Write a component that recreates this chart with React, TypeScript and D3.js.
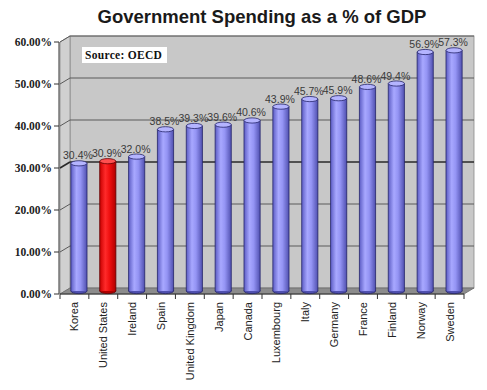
import * as d3 from "d3";

const countries = ["Korea", "United States", "Ireland", "Spain", "United Kingdom", "Japan", "Canada", "Luxembourg", "Italy", "Germany", "France", "Finland", "Norway", "Sweden"];
const spending = [30.4, 30.9, 32.0, 38.5, 39.3, 39.6, 40.6, 43.9, 45.7, 45.9, 48.6, 49.4, 56.9, 57.3];
const highlight = ["United States"];
const yTicks = [0, 10, 20, 30, 40, 50, 60];

const W = 487;
const H = 390;
// 3d depth of the plot box
const dx = 10;
const dy = -6;

export default function App() {
  const x = d3.scaleBand<string>().domain(countries).range([60, 464]).paddingInner(0.44).paddingOuter(0.22);
  const band = d3.scaleBand<string>().domain(countries).range([60, 464]);
  const y = d3.scaleLinear().domain([0, 60]).range([294, 42]);

  const x0 = 60, x1 = 464;
  const y0 = y(0), yTop = y(60);
  const bw = x.bandwidth();
  const off = 4.5; // bars sit halfway into the box
  const ry = 2.6;

  return (
    <svg width={W} height={H} style={{ position: "absolute", left: 0, top: 0, background: "#fff" }}>
      <defs>
        <linearGradient id="blue" x1="0" x2="1" y1="0" y2="0">
          <stop offset="0" stopColor="#5c5cc4" />
          <stop offset="0.35" stopColor="#a8a8ff" />
          <stop offset="0.6" stopColor="#9494f4" />
          <stop offset="1" stopColor="#5050b0" />
        </linearGradient>
        <linearGradient id="red" x1="0" x2="1" y1="0" y2="0">
          <stop offset="0" stopColor="#c80000" />
          <stop offset="0.35" stopColor="#ff2a2a" />
          <stop offset="0.6" stopColor="#f01010" />
          <stop offset="1" stopColor="#b00000" />
        </linearGradient>
      </defs>

      <text x={262} y={23} textAnchor="middle" fontFamily="Liberation Sans, Arial, sans-serif" fontWeight="bold" fontSize={18.5} fill="#1a1a1a">
        Government Spending as a % of GDP
      </text>

      {/* back wall */}
      <rect x={x0 + dx} y={yTop + dy} width={x1 - x0} height={y0 - yTop} fill="#c8c8c8" stroke="#8a8a8a" strokeWidth={0.8} />
      {/* left wall */}
      <polygon points={`${x0},${yTop} ${x0 + dx},${yTop + dy} ${x0 + dx},${y0 + dy} ${x0},${y0}`} fill="#d0d0d0" stroke="#8a8a8a" strokeWidth={0.8} />
      {/* floor */}
      <polygon points={`${x0},${y0} ${x1},${y0} ${x1 + dx},${y0 + dy} ${x0 + dx},${y0 + dy}`} fill="#8c8c8c" stroke="#6a6a6a" strokeWidth={0.8} />

      {yTicks.filter((t) => t > 0).map((t) => {
        const strong = t === 30;
        const c = strong ? "#2a2a2a" : "#5a5a5a";
        const sw = strong ? 1.6 : 1;
        return (
          <g key={t}>
            <line x1={x0} y1={y(t)} x2={x0 + dx} y2={y(t) + dy} stroke={c} strokeWidth={sw} />
            <line x1={x0 + dx} y1={y(t) + dy} x2={x1 + dx} y2={y(t) + dy} stroke={c} strokeWidth={sw} />
          </g>
        );
      })}

      {/* y axis */}
      <line x1={x0 - 1} y1={yTop} x2={x0 - 1} y2={y0} stroke="#333" strokeWidth={1} />
      {yTicks.map((t) => (
        <g key={t}>
          <line x1={x0 - 6} y1={y(t)} x2={x0 - 1} y2={y(t)} stroke="#333" />
          <text x={x0 - 8} y={y(t) + 4} textAnchor="end" fontFamily="Liberation Serif, Times New Roman, serif" fontWeight="bold" fontSize={11.5} fill="#222">
            {t.toFixed(2)}%
          </text>
        </g>
      ))}

      {/* x axis */}
      <line x1={x0} y1={y0} x2={x1} y2={y0} stroke="#333" />
      {countries.concat(["_end"]).map((c, i) => {
        const xx = x0 + i * band.step();
        return <line key={c} x1={xx} y1={y0} x2={xx} y2={y0 + 5} stroke="#333" />;
      })}

      {/* source box */}
      <rect x={82} y={47} width={85} height={16} fill="#fff" />
      <text x={85} y={59} fontFamily="Liberation Serif, Times New Roman, serif" fontWeight="bold" fontSize={11.5} fill="#111" letterSpacing={0.3}>
        Source: OECD
      </text>

      {/* bars */}
      {countries.map((c, i) => {
        const v = spending[i];
        const bx = (x(c) as number) + off;
        const cx = bx + bw / 2;
        const top = y(v) - 3;
        const bottom = y0 - 3;
        const red = highlight.includes(c);
        const fill = red ? "url(#red)" : "url(#blue)";
        const edge = red ? "#600000" : "#24246a";
        const cap = red ? "#ff5050" : "#b4b4ff";
        return (
          <g key={c}>
            <ellipse cx={cx} cy={bottom} rx={bw / 2} ry={ry} fill={red ? "#b00000" : "#5050b0"} stroke={edge} strokeWidth={0.8} />
            <rect x={bx} y={top} width={bw} height={bottom - top} fill={fill} />
            <line x1={bx} y1={top} x2={bx} y2={bottom} stroke={edge} strokeWidth={0.8} />
            <line x1={bx + bw} y1={top} x2={bx + bw} y2={bottom} stroke={edge} strokeWidth={0.8} />
            <ellipse cx={cx} cy={top} rx={bw / 2} ry={ry} fill={cap} stroke={edge} strokeWidth={0.8} />
            <text x={cx - 1} y={top - 4} textAnchor="middle" fontFamily="Liberation Sans, Arial, sans-serif" fontSize={10.5} fill="#3a3a3a">
              {v.toFixed(1)}%
            </text>
          </g>
        );
      })}

      {/* category labels */}
      {countries.map((c) => {
        const cx = (band(c) as number) + band.bandwidth() / 2;
        return (
          <text key={c} transform={`translate(${cx + 4},${y0 + 8}) rotate(-90)`} textAnchor="end" fontFamily="Liberation Sans, Arial, sans-serif" fontSize={11} fill="#222">
            {c}
          </text>
        );
      })}
    </svg>
  );
}
